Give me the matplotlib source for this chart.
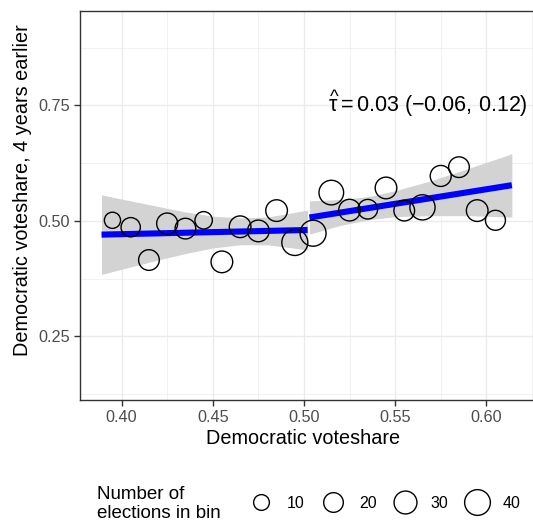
import matplotlib
matplotlib.use("Agg")
import matplotlib.pyplot as plt
from matplotlib.lines import Line2D
from matplotlib.ticker import MultipleLocator
import numpy as np

plt.rcParams["font.family"] = ["Liberation Sans", "DejaVu Sans"]
plt.rcParams["mathtext.fontset"] = "custom"
plt.rcParams["mathtext.rm"] = "Liberation Sans"
plt.rcParams["mathtext.it"] = "Liberation Sans:italic"

# binned means of the lagged vote share
bin_center = [0.395, 0.405, 0.415, 0.425, 0.435, 0.445, 0.455, 0.465, 0.475, 0.485, 0.495,
              0.505, 0.515, 0.525, 0.535, 0.545, 0.555, 0.565, 0.575, 0.585, 0.595, 0.605]
bin_mean = [0.501, 0.486, 0.415, 0.494, 0.483, 0.501, 0.411, 0.487, 0.478, 0.522, 0.453,
            0.473, 0.561, 0.523, 0.525, 0.571, 0.522, 0.529, 0.597, 0.616, 0.522, 0.501]
bin_count = [11, 19, 23, 24, 23, 14, 26, 26, 26, 26, 41,
             41, 36, 26, 20, 26, 23, 38, 24, 23, 26, 21]

# linear fits on each side of the cutoff
fit_left_x = [0.389, 0.502]
fit_left_y = [0.470, 0.480]
fit_right_x = [0.503, 0.614]
fit_right_y = [0.507, 0.577]

# 95% confidence bands
band_left_x = [0.389, 0.405, 0.420, 0.435, 0.450, 0.465, 0.480, 0.502]
band_left_lo = [0.384, 0.400, 0.415, 0.429, 0.441, 0.448, 0.448, 0.437]
band_left_hi = [0.556, 0.543, 0.531, 0.519, 0.510, 0.506, 0.508, 0.523]
band_right_x = [0.503, 0.520, 0.535, 0.550, 0.570, 0.590, 0.614]
band_right_lo = [0.471, 0.490, 0.502, 0.509, 0.511, 0.511, 0.508]
band_right_hi = [0.543, 0.546, 0.552, 0.565, 0.587, 0.613, 0.645]

legend_counts = [10, 20, 30, 40]
estimate_label = r"$\widehat{\mathrm{\tau}} = 0.03\ (-0.06,\, 0.12)$"


def marker_pt(n):
    # circle diameter grows with the square root of the bin count
    return np.sqrt(110 + 13.8 * np.asarray(n)) * 72 / 100


fig = plt.figure(figsize=(5.33, 5.24), dpi=100)
ax = fig.add_axes([80 / 533, 124 / 524, 453 / 533, 389.3 / 524])

ax.fill_between(band_left_x, band_left_lo, band_left_hi, color="#d3d3d3", lw=0, zorder=2)
ax.fill_between(band_right_x, band_right_lo, band_right_hi, color="#d3d3d3", lw=0, zorder=2)
ax.plot(fit_left_x, fit_left_y, color="#0000ff", lw=4.4, solid_capstyle="butt", zorder=3)
ax.plot(fit_right_x, fit_right_y, color="#0000ff", lw=4.4, solid_capstyle="butt", zorder=3)
ax.scatter(bin_center, bin_mean, s=marker_pt(bin_count) ** 2, facecolors="none",
           edgecolors="black", linewidths=1.0, zorder=4)

ax.text(0.568, 0.752, estimate_label, ha="center", va="center", fontsize=15.5)

ax.set_xlim(0.3772, 0.6256)
ax.set_ylim(0.112, 0.9547)
ax.xaxis.set_major_locator(MultipleLocator(0.05))
ax.xaxis.set_minor_locator(MultipleLocator(0.025))
ax.yaxis.set_major_locator(MultipleLocator(0.25))
ax.yaxis.set_minor_locator(MultipleLocator(0.125))
ax.xaxis.set_major_formatter(lambda v, p: f"{v:.2f}")
ax.yaxis.set_major_formatter(lambda v, p: f"{v:.2f}")

ax.grid(which="major", color="#ebebeb", lw=1.0, zorder=0)
ax.grid(which="minor", color="#ebebeb", lw=0.5, zorder=0)
ax.set_axisbelow(True)
ax.tick_params(which="major", length=4, width=1, color="#333333", labelsize=11.7,
               labelcolor="#4d4d4d", pad=3)
ax.tick_params(which="minor", length=0)
for side in ["left", "bottom", "top"]:
    ax.spines[side].set_color("#333333")
    ax.spines[side].set_linewidth(1.0)
ax.spines["right"].set_visible(False)

ax.set_xlabel("Democratic voteshare", fontsize=14.3)
ax.set_ylabel("Democratic voteshare, 4 years earlier", fontsize=14.3)
ax.xaxis.set_label_coords(0.4934, -0.075)
ax.yaxis.set_label_coords(-0.106, 0.539)

# size legend along the bottom
handles = [Line2D([], [], marker="o", ls="", mfc="none", mec="black", mew=1.0,
                  ms=marker_pt(c)) for c in legend_counts]
fig.legend(handles, [str(c) for c in legend_counts], ncol=4, frameon=False,
           loc="center left", bbox_to_anchor=(247.7 / 533, 1 - 503.3 / 524),
           fontsize=11.5, handlelength=1.65, handletextpad=0.8, columnspacing=0.95,
           borderpad=0, borderaxespad=0)
fig.text(97 / 533, 1 - 504 / 524, "Number of\nelections in bin", fontsize=13.5,
         ha="left", va="center", linespacing=1.15)

fig.savefig("out.png", dpi=100)
